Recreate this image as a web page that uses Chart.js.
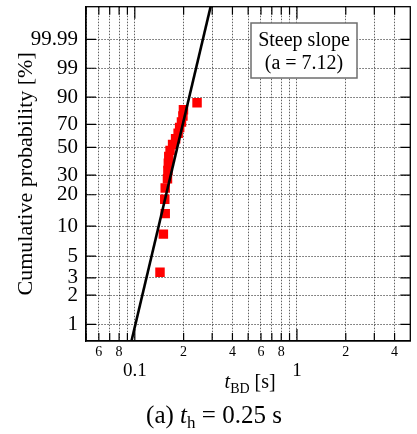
<!DOCTYPE html>
<html>
<head>
<meta charset="utf-8">
<script src="https://cdn.jsdelivr.net/npm/chart.js@4.4.0/dist/chart.umd.min.js"></script>
<style>
  html, body { margin: 0; padding: 0; background: #fff; }
  #wrap { width: 417px; height: 434px; position: relative; }
</style>
</head>
<body>
<div id="wrap"><canvas id="weibull"></canvas></div>
<script>
// breakdown times [s] and their cumulative probability [%] (median ranks)
const failTimes = [0.143, 0.150, 0.154, 0.153, 0.154, 0.159, 0.160, 0.161, 0.162, 0.165,
                   0.171, 0.1785, 0.185, 0.189, 0.194, 0.198, 0.1995, 0.242];
const cumProb = [3.43, 8.33, 13.24, 18.14, 23.04, 27.94, 32.84, 37.75, 42.65, 47.55,
                 52.45, 57.35, 62.25, 67.16, 72.06, 76.96, 81.86, 86.76];

// Weibull fit: shape a and scale (63.2 % time)
const fitShape = 7.12;
const fitScale = 0.1925;
const fitTimes = [0.09, 0.32];

// axis ticks
const probTicks = [1, 2, 3, 5, 10, 20, 30, 50, 70, 90, 99, 99.99];
const timeTicks = [0.05, 0.06, 0.07, 0.08, 0.09, 0.1, 0.2, 0.3, 0.4, 0.5, 0.6, 0.7, 0.8, 0.9, 1, 2, 3, 4];
const timeTickLabels = ['', '6', '', '8', '', '', '2', '', '4', '', '6', '', '8', '', '', '2', '', '4'];
const majorTicks = [0.1, 1];
const majorTickLabels = ['0.1', '1'];

const SERIF = "'Liberation Serif', 'Times New Roman', serif";
const weibull = p => Math.log(-Math.log(1 - p / 100));

const gridColor = 'rgba(0,0,0,0.62)';
const gridDash = [1.5, 1.5];

// ── frame, inward tick marks, annotation, x title and caption ──────
const decorPlugin = {
    id: 'decor',
    afterDatasetsDraw(chart) {
        const { ctx, chartArea: a, scales } = chart;
        ctx.save();
        ctx.strokeStyle = '#000';
        ctx.lineWidth = 1.2;
        ctx.setLineDash([]);
        ctx.beginPath();
        scales.y.ticks.forEach(t => {
            const y = scales.y.getPixelForValue(t.value);
            ctx.moveTo(a.left, y); ctx.lineTo(a.left + 10, y);
            ctx.moveTo(a.right, y); ctx.lineTo(a.right - 10, y);
        });
        scales.x.ticks.forEach(t => {
            const x = scales.x.getPixelForValue(t.value);
            const len = majorTicks.includes(t.value) ? 12 : 8;
            ctx.moveTo(x, a.bottom); ctx.lineTo(x, a.bottom - len);
            ctx.moveTo(x, a.top); ctx.lineTo(x, a.top + len);
        });
        ctx.stroke();
        ctx.lineWidth = 1.3;
        ctx.strokeRect(a.left, a.top, a.right - a.left, a.bottom - a.top);

        // annotation box
        ctx.fillStyle = '#fff';
        ctx.fillRect(251, 23, 106, 55);
        ctx.strokeStyle = '#6e6e6e';
        ctx.lineWidth = 1.5;
        ctx.strokeRect(251, 23, 106, 55);
        ctx.fillStyle = '#000';
        ctx.font = '20px ' + SERIF;
        ctx.textAlign = 'center';
        ctx.textBaseline = 'alphabetic';
        ctx.fillText('Steep slope', 304, 46);
        ctx.fillText('(a = ' + fitShape.toFixed(2) + ')', 304, 69);
        ctx.restore();
    },
    afterDraw(chart) {
        const { ctx, chartArea: a } = chart;
        const cx = (a.left + a.right) / 2;
        drawRuns(ctx, [
            { text: 't', font: 'italic 20px ' + SERIF, dy: 0 },
            { text: 'BD', font: '14px ' + SERIF, dy: 5 },
            { text: ' [s]', font: '20px ' + SERIF, dy: 0 }
        ], cx + 2, 388);
        drawRuns(ctx, [
            { text: '(a) ', font: '25px ' + SERIF, dy: 0 },
            { text: 't', font: 'italic 25px ' + SERIF, dy: 0 },
            { text: 'h', font: '17px ' + SERIF, dy: 5 },
            { text: ' = 0.25 s', font: '25px ' + SERIF, dy: 0 }
        ], 214, 423);
    }
};

function drawRuns(ctx, runs, cx, baseline) {
    ctx.save();
    ctx.fillStyle = '#000';
    ctx.textAlign = 'left';
    ctx.textBaseline = 'alphabetic';
    let total = 0;
    runs.forEach(r => { ctx.font = r.font; r.w = ctx.measureText(r.text).width; total += r.w; });
    let x = cx - total / 2;
    runs.forEach(r => { ctx.font = r.font; ctx.fillText(r.text, x, baseline + r.dy); x += r.w; });
    ctx.restore();
}

function noEdgePadding(s) {
    s.paddingTop = 0; s.paddingBottom = 0; s.paddingLeft = 0; s.paddingRight = 0;
}

new Chart(document.getElementById('weibull'), {
    data: {
        datasets: [{
            type: 'line',
            data: fitTimes.map(t => ({ x: t, y: fitShape * Math.log(t / fitScale) })),
            borderColor: '#000',
            borderWidth: 2.6,
            pointRadius: 0,
            xAxisID: 'x',
            yAxisID: 'y',
        }, {
            type: 'scatter',
            data: failTimes.map((t, i) => ({ x: t, y: weibull(cumProb[i]) })),
            pointStyle: 'rect',
            pointRadius: 6.7,
            pointHoverRadius: 6.7,
            backgroundColor: '#ff0000',
            borderWidth: 0,
            xAxisID: 'x',
            yAxisID: 'y',
        }]
    },
    options: {
        responsive: true,
        maintainAspectRatio: false,
        animation: false,
        layout: { padding: { top: 5, right: 0, bottom: 50, left: 0 } },
        plugins: { legend: { display: false }, tooltip: { enabled: false } },
        scales: {
            x: {
                type: 'logarithmic', min: 0.05, max: 5, position: 'bottom', weight: 0,
                afterBuildTicks: s => { s.ticks = timeTicks.map(v => ({ value: v })); },
                afterFit: s => { s.height = 20; noEdgePadding(s); },
                ticks: {
                    autoSkip: false, maxRotation: 0, padding: 3, color: '#000',
                    font: { family: SERIF, size: 14 },
                    callback: (v, i) => timeTickLabels[i]
                },
                grid: { color: gridColor, lineWidth: 1, drawTicks: false },
                border: { color: '#000', width: 1.3, dash: gridDash }
            },
            x2: {
                type: 'logarithmic', min: 0.05, max: 5, position: 'bottom', weight: 1,
                afterBuildTicks: s => { s.ticks = majorTicks.map(v => ({ value: v })); },
                afterFit: s => { s.height = 23; noEdgePadding(s); },
                ticks: {
                    autoSkip: false, maxRotation: 0, padding: -1, color: '#000',
                    font: { family: SERIF, size: 19 },
                    callback: (v, i) => majorTickLabels[i]
                },
                grid: { display: false, drawTicks: false },
                border: { display: false }
            },
            y: {
                type: 'linear', min: -5, max: 3,
                afterBuildTicks: s => { s.ticks = probTicks.map(p => ({ value: weibull(p) })); },
                afterFit: s => { s.width = 86; noEdgePadding(s); },
                ticks: {
                    autoSkip: false, padding: 8, color: '#000',
                    font: { family: SERIF, size: 21 },
                    callback: (v, i) => String(probTicks[i])
                },
                grid: { color: gridColor, lineWidth: 1, drawTicks: false },
                border: { color: '#000', width: 1.3, dash: gridDash },
                title: {
                    display: true, text: 'Cumulative probability [%]', color: '#000',
                    font: { family: SERIF, size: 22 },
                    padding: { top: 13, bottom: 0 }
                }
            }
        }
    },
    plugins: [decorPlugin]
});
</script>
</body>
</html>
